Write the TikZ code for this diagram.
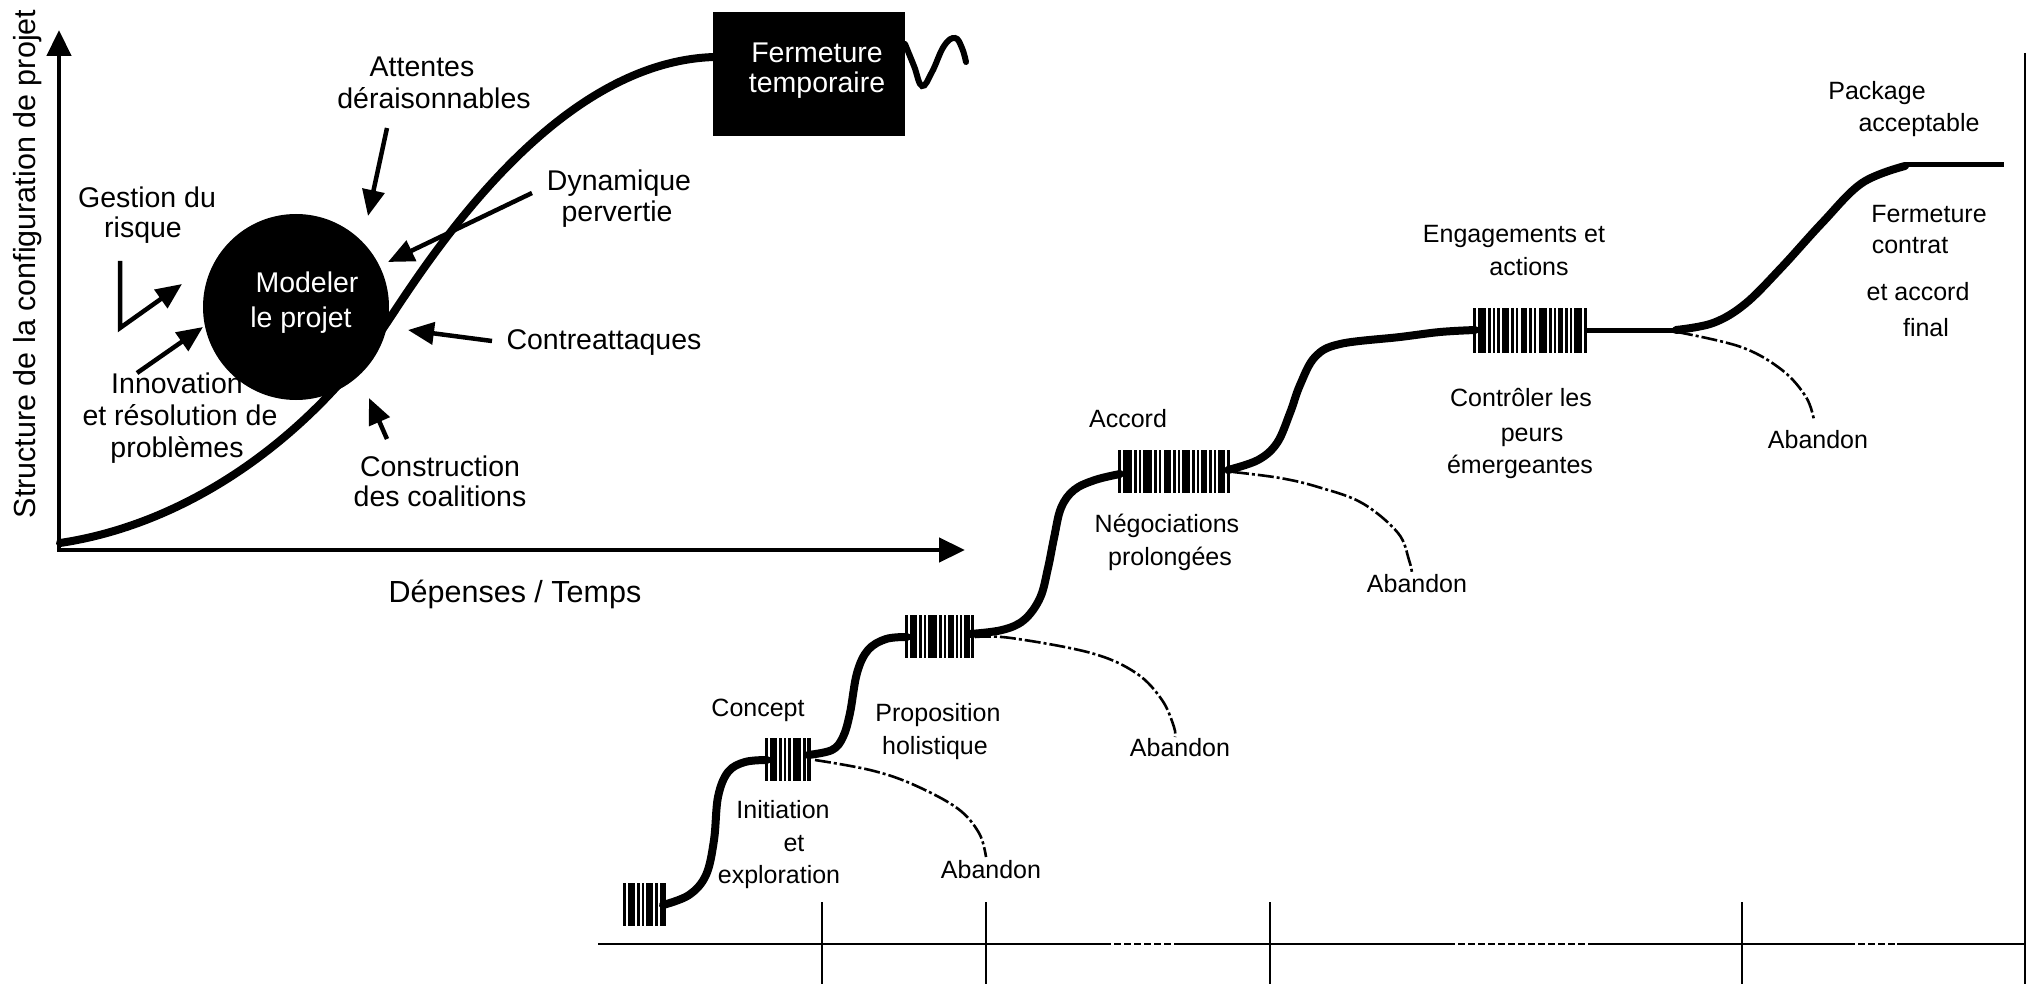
\documentclass[tikz,border=0pt]{standalone}
\usepackage{fontspec}
\setmainfont{Liberation Sans}
\usetikzlibrary{arrows.meta}

% a strip of vertical bars: x start, y top, y bottom, list of offset/width
\newcommand\bcstrip[4]{%
  \foreach \o/\w in {#4}{\fill (#1+\o,#2) rectangle (#1+\o+\w,#3);}}

\begin{document}
\begin{tikzpicture}[x=1pt,y=-1pt,
  biglbl/.style={font=\fontsize{28.5}{31}\selectfont, inner sep=0pt, text height=18pt, text depth=0pt},
  smalllbl/.style={font=\fontsize{25}{33}\selectfont, inner sep=0pt, text height=16pt, text depth=0pt},
  axislbl/.style={font=\fontsize{30.5}{33}\selectfont, inner sep=0pt, text height=19pt, text depth=0pt},
  axisline/.style={line width=4.5pt, -{Triangle[length=26pt,width=24pt]}},
  pusharrow/.style={line width=4.5pt, -{Triangle[length=26pt,width=22pt]}},
  thickcurve/.style={line width=8pt, line cap=round, line join=round},
  flatline/.style={line width=5pt},
  dropline/.style={line width=2.6pt, dash pattern=on 16pt off 3pt on 3pt off 3pt},
  tickline/.style={line width=2.2pt},
  baseline/.style={line width=2.6pt},
  gapline/.style={line width=2.6pt, dash pattern=on 7pt off 3pt},
]
\useasboundingbox (0,0) rectangle (2029,984);
\fill[white] (0,0) rectangle (2029,984);

% ---------------- left chart: axes ----------------
\coordinate (O) at (59,550);
\coordinate (ytip) at (59,30);
\coordinate (xtip) at (965,550);
\draw[axisline, line cap=rect] (O) -- (ytip);
\draw[axisline, line cap=rect] (O) -- (xtip);
\node[axislbl, rotate=90] (ylab) at (26,264) {Structure de la configuration de projet};
\node[axislbl] (xlab) at (515,593) {Dépenses / Temps};

% labels around the shaping of the project
\node[biglbl] (innA) at (177,384) {Innovation};
\node[biglbl] (innB) at (180,416) {et résolution de};
\node[biglbl] (innC) at (177,448) {problèmes};

% the project being shaped
\node[circle, fill=black, minimum size=186pt, inner sep=0pt] (shape) at (296,307) {};
\node[biglbl, text=white] (modA) at (307,284) {Modeler};
\node[biglbl, text=white] (modB) at (301,318) {le projet};

% S-curve up to the temporary closure
\coordinate (sStart) at (60,543);
\coordinate (sMid) at (390,318);
\coordinate (sEnd) at (714,57);
\draw[thickcurve] (sStart) .. controls (200,522) and (320,425) .. (sMid)
                  .. controls (440,242) and (560,62) .. (sEnd);

\node[fill=black, minimum width=192pt, minimum height=124pt, inner sep=0pt] (closure) at (809,74) {};
\node[biglbl, text=white] (fermA) at (817,54) {Fermeture};
\node[biglbl, text=white] (fermB) at (817,84) {temporaire};
\draw[line width=6pt, line cap=round] plot[smooth, tension=0.7] coordinates {(905,44) (914,66) (922,86) (932,72) (944,46) (955,38) (962,48) (966,62)};

\node[biglbl] (attA) at (422,68) {Attentes};
\node[biglbl] (attB) at (434,100) {déraisonnables};
\node[biglbl] (dynA) at (619,182) {Dynamique};
\node[biglbl] (dynB) at (617,213) {pervertie};
\node[biglbl] (gesA) at (147,199) {Gestion du};
\node[biglbl] (gesB) at (143,229) {risque};
\node[biglbl] (ctr) at (604,340) {Contreattaques};
\node[biglbl] (conA) at (440,467) {Construction};
\node[biglbl] (conB) at (440,497) {des coalitions};

% pressures acting on the project
\coordinate (attT) at (387,128);  \coordinate (attH) at (368,216);
\coordinate (dynT) at (532,193);  \coordinate (dynH) at (388,262);
\coordinate (ctrT) at (492,341);  \coordinate (ctrH) at (408,330);
\coordinate (conT) at (387,439);  \coordinate (conH) at (369,398);
\coordinate (innT) at (137,373);  \coordinate (innH) at (203,327);
\coordinate (gesT) at (120,261);  \coordinate (gesK) at (120,328);  \coordinate (gesH) at (182,284);
\draw[pusharrow] (attT) -- (attH);
\draw[pusharrow] (dynT) -- (dynH);
\draw[pusharrow] (ctrT) -- (ctrH);
\draw[pusharrow] (conT) -- (conH);
\draw[pusharrow] (innT) -- (innH);
\draw[pusharrow, line join=miter] (gesT) -- (gesK) -- (gesH);

% ---------------- right chart: staged negotiation ----------------
% time line with its phase marks
\coordinate (tlA) at (598,944);
\coordinate (tlB) at (1104,944);
\coordinate (tlC) at (1177,944);
\coordinate (tlD) at (1448,944);
\coordinate (tlE) at (1595,944);
\coordinate (tlF) at (1848,944);
\coordinate (tlG) at (1897,944);
\coordinate (tlH) at (2025,944);
\draw[baseline] (tlA) -- (tlB);
\draw[gapline] (tlB) -- (tlC);
\draw[baseline] (tlC) -- (tlD);
\draw[gapline] (tlD) -- (tlE);
\draw[baseline] (tlE) -- (tlF);
\draw[gapline] (tlF) -- (tlG);
\draw[baseline] (tlG) -- (tlH);
\foreach \tx [count=\i] in {822,986,1270,1742}{
  \coordinate (tkTop\i) at (\tx,902);
  \coordinate (tkBot\i) at (\tx,984);
  \draw[tickline] (tkTop\i) -- (tkBot\i);
}
\coordinate (edgeTop) at (2025,53);
\coordinate (edgeBot) at (2025,984);
\draw[line width=2.5pt] (edgeTop) -- (edgeBot);

% milestone bar strips
\bcstrip{623}{883}{926}{0/3, 5/7, 14/3, 19/2, 23/7, 32/3, 37/6}
\bcstrip{765}{738}{781}{0/3, 5/7, 14/3, 19/2, 23/3, 28/8, 38/3, 42/4}
\bcstrip{905}{615}{658}{0/3, 5/7, 14/3, 19/2, 23/9, 34/3, 39/2, 43/6, 51/2, 55/2, 59/6, 66/3}
\bcstrip{1118}{450}{493}{0/3, 5/9, 16/3, 21/2, 25/9, 36/3, 41/2, 46/7, 55/3, 60/2, 64/8, 74/3, 79/2, 83/6, 91/3, 96/2, 100/7, 109/3}
\bcstrip{1473}{308}{353}{0/3, 5/8, 15/3, 20/2, 24/3, 29/7, 38/3, 43/2, 48/6, 56/3, 61/2, 66/8, 76/3, 81/2, 85/5, 92/3, 97/2, 101/8, 111/3}

% the negotiation path between milestones
\draw[thickcurve] plot[smooth, tension=0.6] coordinates {(663,905) (689,895) (706,875) (714,840) (718,797) (728,772) (745,762) (767,760)};
\draw[thickcurve] plot[smooth, tension=0.6] coordinates {(808,755) (832,750) (843,737) (850,713) (857,673) (868,650) (886,639) (907,637)};
\draw[thickcurve] plot[smooth, tension=0.6] coordinates {(970,634) (1002,630) (1024,620) (1040,598) (1048,568) (1054,538) (1061,508) (1074,490) (1095,480) (1120,474)};
\draw[thickcurve] plot[smooth, tension=0.6] coordinates {(1228,470) (1258,460) (1277,443) (1290,413) (1300,385) (1315,357) (1340,344) (1400,337) (1440,332) (1475,330)};
\coordinate (engR) at (1585,330);
\coordinate (riseA) at (1676,330);
\coordinate (riseB) at (1905,165);
\coordinate (pathEnd) at (2004,165);
\draw[flatline] (engR) -- (riseA);
\draw[thickcurve] plot[smooth, tension=0.6] coordinates {(1676,330) (1713,323) (1745,304) (1781,268) (1822,223) (1862,183) (1905,166)};
\draw[flatline] (riseB) -- (pathEnd);

% ways out: abandon
\draw[dropline] plot[smooth, tension=0.6] coordinates {(815,760) (870,770) (912,784) (957,808) (979,833) (986,857)};
\draw[dropline] plot[smooth, tension=0.6] coordinates {(975,637) (1011,638) (1091,653) (1136,673) (1162,700) (1174,727) (1175,737)};
\draw[dropline] plot[smooth, tension=0.6] coordinates {(1233,472) (1280,478) (1318,487) (1362,503) (1398,533) (1409,560) (1412,573)};
\draw[dropline] plot[smooth, tension=0.6] coordinates {(1677,332) (1741,347) (1782,370) (1806,397) (1814,420)};

% phase labels
\node[smalllbl] (conc) at (758,708) {Concept};
\node[smalllbl] (iniA) at (783,810) {Initiation};
\node[smalllbl] (iniB) at (794,843) {et};
\node[smalllbl] (iniC) at (779,875) {exploration};
\node[smalllbl] (propA) at (938,713) {Proposition};
\node[smalllbl] (propB) at (935,746) {holistique};
\node[smalllbl] (acc) at (1128,419) {Accord};
\node[smalllbl] (negA) at (1167,524) {Négociations};
\node[smalllbl] (negB) at (1170,557) {prolongées};
\node[smalllbl] (engA) at (1514,235) {Engagements et};
\node[smalllbl] (engB) at (1529,268) {actions};
\node[smalllbl] (ctlA) at (1521,398) {Contrôler les};
\node[smalllbl] (ctlB) at (1532,433) {peurs};
\node[smalllbl] (ctlC) at (1520,465) {émergeantes};
\node[smalllbl] (pkgA) at (1877,92) {Package};
\node[smalllbl] (pkgB) at (1919,124) {acceptable};
\node[smalllbl] (finA) at (1929,215) {Fermeture};
\node[smalllbl] (finB) at (1910,246) {contrat};
\node[smalllbl] (finC) at (1918,293) {et accord};
\node[smalllbl] (finD) at (1926,328) {final};
\node[smalllbl] (ab1) at (991,870) {Abandon};
\node[smalllbl] (ab2) at (1180,748) {Abandon};
\node[smalllbl] (ab3) at (1417,584) {Abandon};
\node[smalllbl] (ab4) at (1818,440) {Abandon};
\end{tikzpicture}
\end{document}
